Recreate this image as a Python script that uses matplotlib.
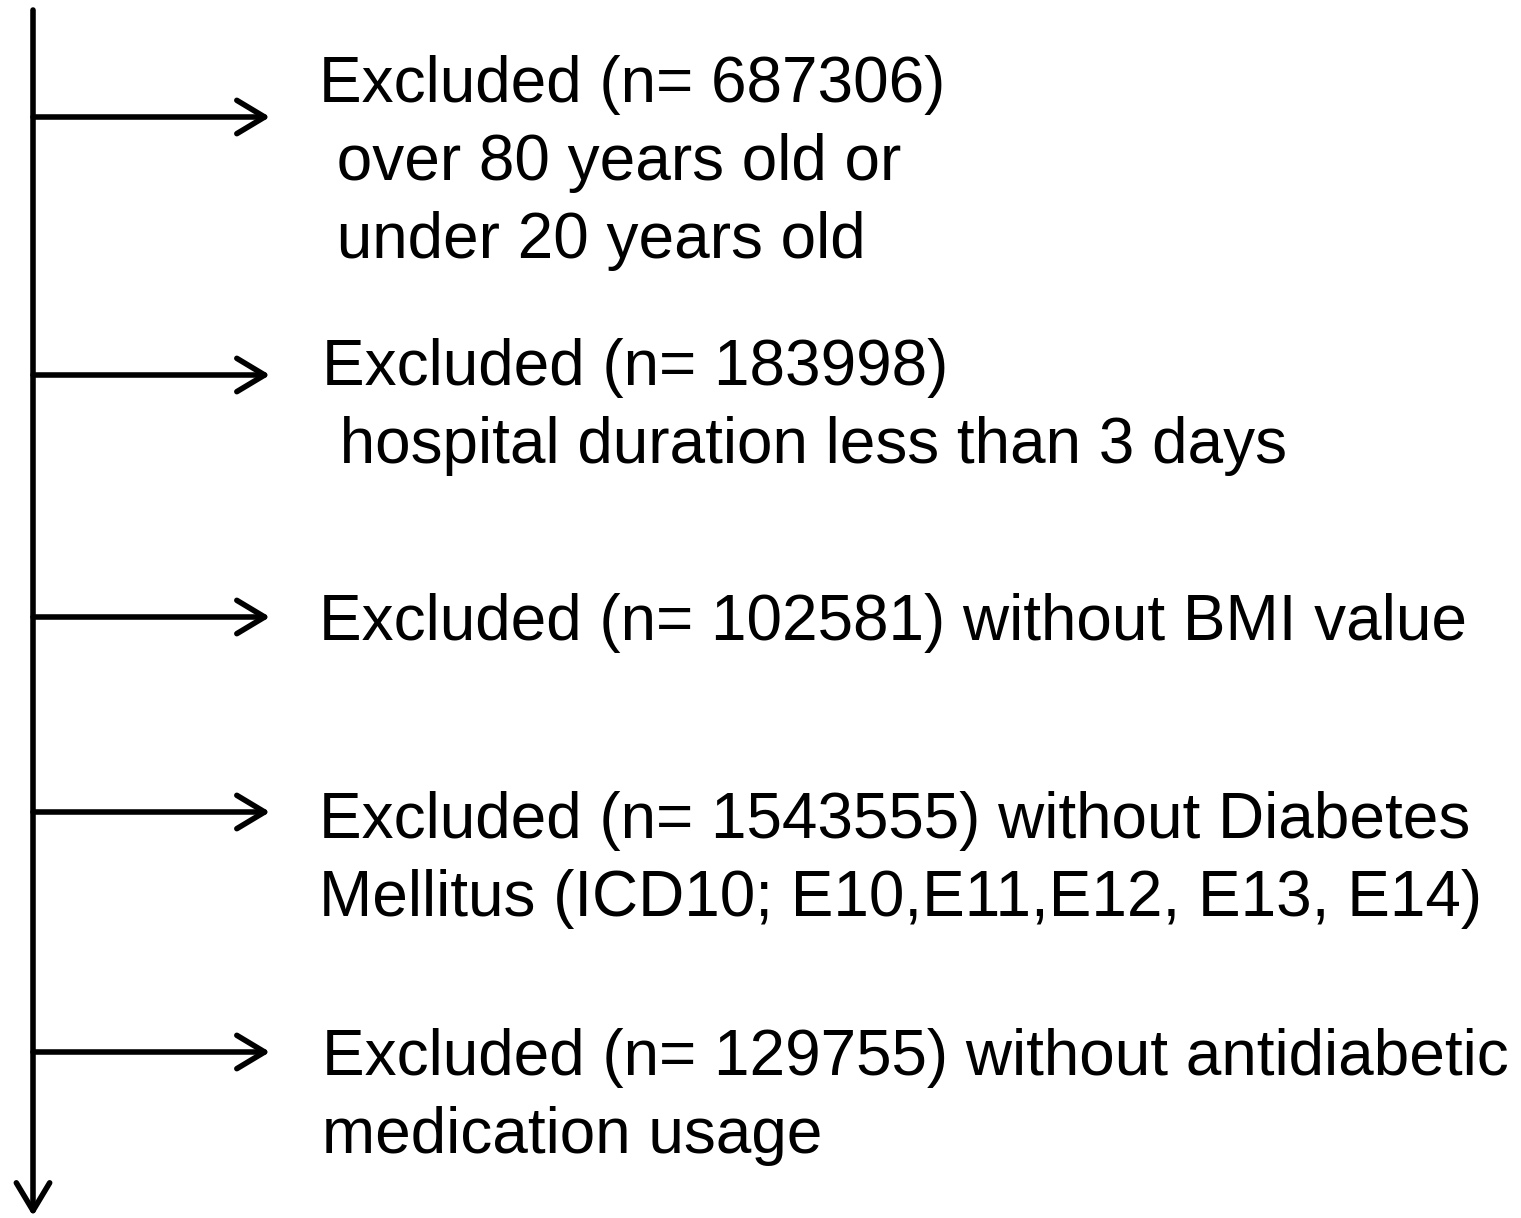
import matplotlib.pyplot as plt
from matplotlib.patches import FancyArrowPatch

# exclusion steps: arrow height (px), text lines and their left edges
arrow_y = [117, 375, 617, 812, 1052]
text_lines = [
    ["Excluded (n= 687306)", " over 80 years old or", " under 20 years old"],
    ["Excluded (n= 183998)", " hospital duration less than 3 days"],
    ["Excluded (n= 102581) without BMI value"],
    ["Excluded (n= 1543555) without Diabetes", "Mellitus (ICD10; E10,E11,E12, E13, E14)"],
    ["Excluded (n= 129755) without antidiabetic", "medication usage"],
]
first_baseline = [102, 385, 640, 838, 1075]
text_x = [319, 322, 319, 319, 322]

W, H = 1521, 1218
fig = plt.figure(figsize=(W / 100, H / 100), dpi=100)
ax = fig.add_axes([0, 0, 1, 1])
ax.set_xlim(0, W)
ax.set_ylim(H, 0)
ax.axis('off')

x_trunk = 33
arrow_style = dict(arrowstyle='->,head_length=1.0,head_width=0.6', color='black',
                   lw=4, shrinkA=0, shrinkB=0, mutation_scale=20,
                   capstyle='round', joinstyle='round')

# main vertical arrow
ax.add_patch(FancyArrowPatch((x_trunk, 10), (x_trunk, 1216), **arrow_style))

for y, lines, base, tx in zip(arrow_y, text_lines, first_baseline, text_x):
    ax.add_patch(FancyArrowPatch((x_trunk, y), (270, y), **arrow_style))
    for i, line in enumerate(lines):
        ax.text(tx, base + i * 78, line, fontsize=46, family='Liberation Sans',
                va='baseline', ha='left', color='black')

fig.savefig('out.png', dpi=100)
